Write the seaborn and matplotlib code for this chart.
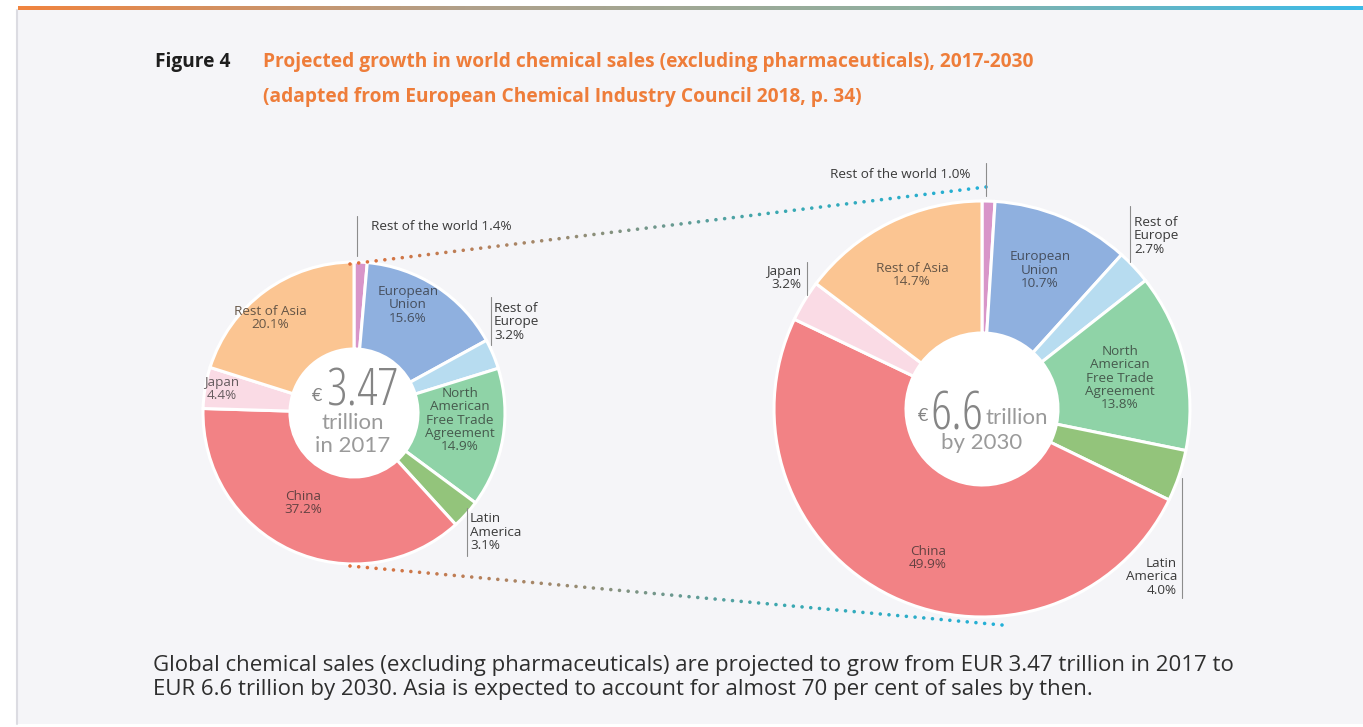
import numpy as np
import matplotlib
matplotlib.use("Agg")
import matplotlib.pyplot as plt
import seaborn as sns
from matplotlib.patches import Rectangle

# ---------------- data ----------------
regions = ["Rest of the world", "European Union", "Rest of Europe",
           "North American Free Trade Agreement", "Latin America",
           "China", "Japan", "Rest of Asia"]
share_2017 = [1.4, 15.6, 3.2, 14.9, 3.1, 37.2, 4.4, 20.1]
share_2030 = [1.0, 10.7, 2.7, 13.8, 4.0, 49.9, 3.2, 14.7]
total_2017 = "3.47"
total_2030 = "6.6"

title_prefix = "Figure 4"
title_line1 = "Projected growth in world chemical sales (excluding pharmaceuticals), 2017-2030"
title_line2 = "(adapted from European Chemical Industry Council 2018, p. 34)"
caption_line1 = ("Global chemical sales (excluding pharmaceuticals) are projected to grow "
                 "from EUR 3.47 trillion in 2017 to")
caption_line2 = ("EUR 6.6 trillion by 2030. Asia is expected to account for almost 70 per "
                 "cent of sales by then.")

# ---------------- style ----------------
sns.set_theme(style="white")
palette = sns.color_palette(["#d895c9", "#8fb0df", "#b7dcf0", "#8fd3a7",
                             "#93c47b", "#f28285", "#fadbe5", "#fbc592"])
plt.rcParams["font.family"] = ["Open Sans", "DejaVu Sans"]

W, H = 1363, 727
fig = plt.figure(figsize=(W / 100, H / 100), dpi=100)
ax = fig.add_axes([0, 0, 1, 1])


def Y(y):
    return H - y


# background panel and top gradient rule
ax.add_patch(Rectangle((0, 0), W, H, color="white", zorder=0))
ax.add_patch(Rectangle((16, Y(724)), W - 16, 714, color="#f5f5f8", zorder=0.5, lw=0))
ax.plot([16.5, 16.5], [Y(10), Y(724)], color="#dcdce2", lw=1.5, zorder=0.6)
grad = np.linspace(0, 1, 400)[None, :]
cmap = matplotlib.colors.LinearSegmentedColormap.from_list(
    "rule", ["#f0843f", "#b0a08a", "#8fb0a0", "#3cbbe8"])
ax.imshow(grad, extent=[18, W, Y(10), Y(6)], cmap=cmap, aspect="auto", zorder=1)

# ---------------- donuts ----------------
small = dict(cx=354, cy=413, r=151, rin=64)
large = dict(cx=982, cy=409, r=208, rin=76)

for vals, g in [(share_2017, small), (share_2030, large)]:
    ax.pie(vals, radius=g["r"], center=(g["cx"], Y(g["cy"])), startangle=90,
           counterclock=False, colors=palette,
           wedgeprops=dict(width=g["r"] - g["rin"], edgecolor="white", linewidth=2.2))
    circ = plt.Circle((g["cx"], Y(g["cy"])), g["rin"], color="white", zorder=3)
    ax.add_patch(circ)

# dotted connectors (gradient orange -> teal)
dot_cmap = matplotlib.colors.LinearSegmentedColormap.from_list(
    "dots", ["#e0703a", "#9a8a70", "#3aa8b0", "#22b0d8"])
for (x0, y0, x1, y1) in [(small["cx"] - 4, small["cy"] - small["r"] + 2, large["cx"] + 4, large["cy"] - large["r"] - 14),
                         (small["cx"] - 4, small["cy"] + small["r"] + 2, large["cx"] + 20, large["cy"] + large["r"] + 8)]:
    n = int(np.hypot(x1 - x0, y1 - y0) / 8.6)
    t = np.linspace(0, 1, n)
    ax.scatter(x0 + (x1 - x0) * t, Y(y0 + (y1 - y0) * t), s=6.5, c=dot_cmap(t),
               zorder=4, linewidths=0)

# ---------------- labels ----------------
base_dark = np.array(matplotlib.colors.to_rgb("#262626"))
LAB = dict(family=["Open Sans", "DejaVu Sans"])
fs = 9.7


def shade(i):
    return tuple(0.3 * np.array(palette[i]) + 0.7 * base_dark)


def inside(x, y, s, i):
    ax.text(x, Y(y), s, ha="center", va="center", fontsize=fs, color=shade(i),
            linespacing=1.02, zorder=5, **LAB)


def outside(x, y, s, ha, lx, ly0, ly1):
    ax.text(x, Y(y), s, ha=ha, va="center", fontsize=fs, color="#3a3a3a",
            linespacing=1.02, zorder=5, **LAB)
    ax.plot([lx, lx], [Y(ly0), Y(ly1)], color="#8c8c8c", lw=0.8, zorder=5)


def pct(v):
    return f"{v:.1f}%"


s17, s30 = share_2017, share_2030
# 2017 donut
outside(371, 226, f"{regions[0]} {pct(s17[0])}", "left", 357, 216, 256)
inside(408, 305, f"European\nUnion\n{pct(s17[1])}", 1)
outside(494, 322, f"Rest of\nEurope\n{pct(s17[2])}", "left", 491, 297, 345)
inside(460, 420, f"North\nAmerican\nFree Trade\nAgreement\n{pct(s17[3])}", 3)
outside(470, 532, f"Latin\nAmerica\n{pct(s17[4])}", "left", 467, 508, 556)
inside(303, 503, f"China\n{pct(s17[5])}", 5)
inside(222, 389, f"Japan\n{pct(s17[6])}", 6)
inside(270, 318, f"Rest of Asia\n{pct(s17[7])}", 7)

# 2030 donut
outside(970, 175, f"{regions[0]} {pct(s30[0])}", "right", 986, 163, 196)
inside(1040, 270, f"European\nUnion\n{pct(s30[1])}", 1)
outside(1134, 236, f"Rest of\nEurope\n{pct(s30[2])}", "left", 1130, 206, 262)
inside(1120, 378, f"North\nAmerican\nFree Trade\nAgreement\n{pct(s30[3])}", 3)
outside(1177, 577, f"Latin\nAmerica\n{pct(s30[4])}", "right", 1182, 478, 598)
inside(928, 558, f"China\n{pct(s30[5])}", 5)
outside(801, 278, f"Japan\n{pct(s30[6])}", "right", 807, 262, 295)
inside(912, 275, f"Rest of Asia\n{pct(s30[7])}", 7)

# centre texts
cgray = "#858585"
CF = ["Lato", "DejaVu Sans"]
BIG = dict(family=["Open Sans", "DejaVu Sans"], fontstretch="condensed", fontweight="light")
ax.text(317, Y(396), "€", fontsize=13, color=cgray, ha="center", va="center",
        family=CF, zorder=6)
ax.text(362, Y(405), total_2017, fontsize=37, color=cgray, ha="center", va="baseline",
        zorder=6, **BIG)
ax.text(353, Y(423), "trillion", fontsize=16, color="#9a9a9a", ha="center", va="center",
        family=CF, zorder=6)
ax.text(353, Y(446), "in 2017", fontsize=16, color="#9a9a9a", ha="center", va="center",
        family=CF, zorder=6)

ax.text(923, Y(416), "€", fontsize=13, color=cgray, ha="center", va="center",
        family=CF, zorder=6)
ax.text(957, Y(429), total_2030, fontsize=38, color=cgray, ha="center", va="baseline",
        zorder=6, **BIG)
ax.text(1017, Y(418), "trillion", fontsize=16, color="#9a9a9a", ha="center", va="center",
        family=CF, zorder=6)
ax.text(982, Y(443), "by 2030", fontsize=16, color="#9a9a9a", ha="center", va="center",
        family=CF, zorder=6)

# titles
TT = dict(family=["Open Sans", "DejaVu Sans"], fontweight="bold")
ax.text(155, Y(62), title_prefix, fontsize=13.8, color="#1e1e1e",
        ha="left", va="center", **TT)
ax.text(263, Y(62), title_line1, fontsize=13.8, color="#ee7d3a",
        ha="left", va="center", **TT)
ax.text(263, Y(97), title_line2, fontsize=13.8, color="#ee7d3a",
        ha="left", va="center", **TT)

# caption
ax.text(153, Y(666), caption_line1, fontsize=16, color="#2e2e2e", ha="left",
        va="center", family=["Open Sans", "DejaVu Sans"])
ax.text(153, Y(690), caption_line2, fontsize=16, color="#2e2e2e", ha="left",
        va="center", family=["Open Sans", "DejaVu Sans"])

ax.set_xlim(0, W)
ax.set_ylim(0, H)
ax.set_aspect("auto")
ax.axis("off")
fig.savefig("out.png", dpi=100)
